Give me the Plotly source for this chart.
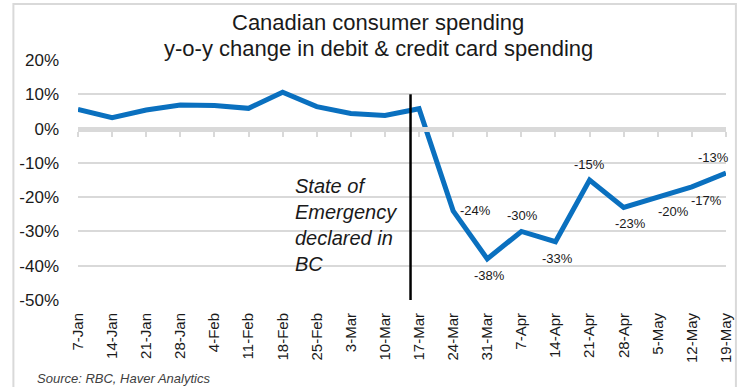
import plotly.graph_objects as go

# Weekly y-o-y change in debit & credit card spending (%)
weeks = ["7-Jan", "14-Jan", "21-Jan", "28-Jan", "4-Feb", "11-Feb", "18-Feb", "25-Feb",
         "3-Mar", "10-Mar", "17-Mar", "24-Mar", "31-Mar", "7-Apr", "14-Apr", "21-Apr",
         "28-Apr", "5-May", "12-May", "19-May"]
spending_change = [5.6, 3.2, 5.4, 6.9, 6.7, 5.9, 10.6, 6.4, 4.4, 3.8, 5.8,
                   -24, -38, -30, -33, -15, -23, -20, -17, -13]
# Weeks that carry a data label (from 24-Mar onward)
labelled_from = 11

y_ticks = [20, 10, 0, -10, -20, -30, -40, -50]
y_tick_text = ["20%", "10%", "0%", "-10%", "-20%", "-30%", "-40%", "-50%"]

# Event marker: state of emergency declared in BC
event_pos = 9.75
event_span = [-50, 10]
event_text = "State of<br>Emergency<br>declared in<br>BC"

FONT = "Liberation Sans, Arial, sans-serif"
BLUE = "#0A70BF"
GRID = "#D9D9D9"
TXT = "#1A1A1A"

fig = go.Figure()

fig.add_trace(go.Scatter(
    x=weeks, y=spending_change, mode="lines",
    line=dict(color=BLUE, width=5), hoverinfo="x+y", showlegend=False,
))

# Dummy trace to activate the axis drawn along 0%
fig.add_trace(go.Scatter(x=weeks, y=[0] * len(weeks), xaxis="x2", mode="lines",
                         line=dict(width=0), hoverinfo="skip", showlegend=False))

# Label placement (xshift, yshift) per labelled point
label_offsets = {
    "24-Mar": (22, 0), "31-Mar": (2, -17), "7-Apr": (1, 16), "14-Apr": (2, -17),
    "21-Apr": (0, 16), "28-Apr": (7, -16), "5-May": (16, -14), "12-May": (15, -14),
    "19-May": (-13, 16),
}
for wk, val in zip(weeks[labelled_from:], spending_change[labelled_from:]):
    dx, dy = label_offsets[wk]
    fig.add_annotation(x=wk, y=val, text=f"{val:.0f}%", showarrow=False,
                       xshift=dx, yshift=dy, font=dict(family=FONT, size=13, color=TXT))

# Event line and its caption
fig.add_shape(type="line", xref="x", yref="y", x0=event_pos, x1=event_pos,
              y0=event_span[0], y1=event_span[1], line=dict(color="black", width=2.5))
fig.add_annotation(x=event_pos, y=-13, xref="x", yref="y", text=event_text,
                   showarrow=False, xanchor="right", yanchor="top", align="left",
                   xshift=-12, font=dict(family=FONT, size=20, color=TXT, style="italic"))

# Chart frame
fig.add_shape(type="rect", xref="paper", yref="paper", x0=-0.0997, x1=1.0153,
              y0=-0.40, y1=1.233, line=dict(color=GRID, width=2), layer="below")

# Title lines
fig.add_annotation(text="Canadian consumer spending", xref="paper", yref="paper",
                   x=0.463, y=1.0, yshift=38, showarrow=False, yanchor="middle",
                   font=dict(family=FONT, size=22, color=TXT))
fig.add_annotation(text="y-o-y change in debit & credit card spending", xref="paper",
                   yref="paper", x=0.463, y=1.0, yshift=12, showarrow=False,
                   yanchor="middle", font=dict(family=FONT, size=22, color=TXT))

# Source note
fig.add_annotation(text="Source: RBC, Haver Analytics", xref="paper", yref="paper",
                   x=-0.066, y=-0.327, xanchor="left", yanchor="middle", showarrow=False,
                   font=dict(family=FONT, size=13, color="#404040", style="italic"))

fig.update_layout(
    width=746, height=387,
    margin=dict(l=78, r=16, t=60, b=87),
    paper_bgcolor="white", plot_bgcolor="white",
    font=dict(family=FONT, color=TXT),
    xaxis=dict(type="category", range=[0, len(weeks) - 1], showgrid=False,
               zeroline=False, showline=False, ticks="", tickangle=-90,
               tickfont=dict(size=15, color=TXT), ticklabelstandoff=9),
    xaxis2=dict(type="category", overlaying="x", anchor="free",
                position=(0 - y_ticks[-1]) / (y_ticks[0] - y_ticks[-1]),
                range=[0, len(weeks) - 1], showline=True, linecolor=GRID, linewidth=5,
                ticks="outside", ticklen=5, tickwidth=2, tickcolor=GRID,
                showticklabels=False, showgrid=False, zeroline=False, side="bottom"),
    yaxis=dict(range=[y_ticks[-1], y_ticks[0]], tickvals=y_ticks, ticktext=y_tick_text,
               showgrid=True, gridcolor=GRID, gridwidth=1.5, zeroline=False,
               showline=False, ticks="", tickfont=dict(size=17, color=TXT),
               ticklabelstandoff=18),
)

fig.write_html("out.html")
